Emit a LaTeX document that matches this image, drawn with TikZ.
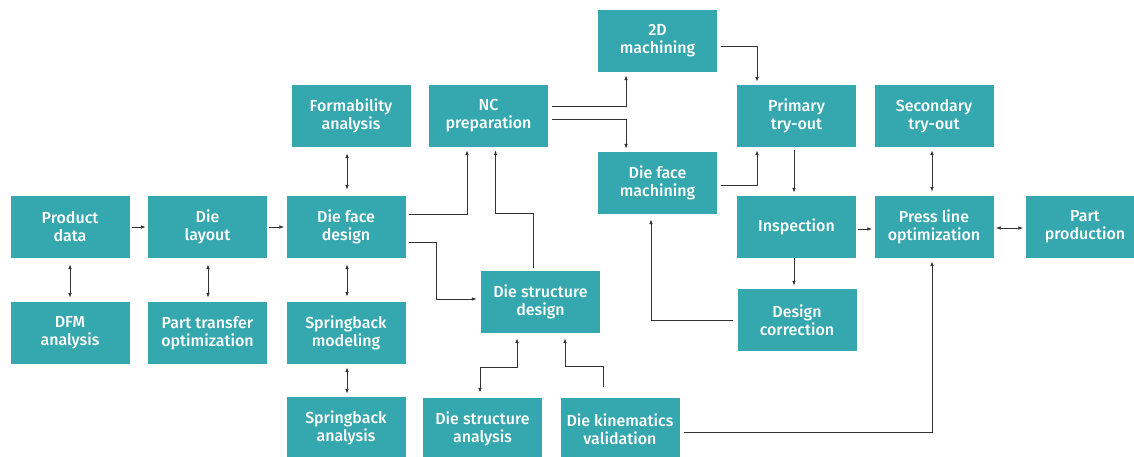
\documentclass[tikz,border=0pt]{standalone}
\usepackage{fontspec}
\setmainfont{Fira Sans}[UprightFont={* Medium}]
\usetikzlibrary{arrows.meta,calc}
\definecolor{boxteal}{HTML}{35A7AE}
\definecolor{linegray}{HTML}{333333}
\tikzset{
  box/.style={fill=boxteal, draw=none, text=white, align=center,
    minimum width=119pt, minimum height=62pt, inner sep=0pt,
    font=\fontsize{16pt}{18pt}\selectfont},
  arr/.style={draw=linegray, line width=0.9pt, -{Latex[length=5pt,width=3.6pt]}},
  darr/.style={draw=linegray, line width=0.9pt, {Latex[length=5pt,width=3.6pt]}-{Latex[length=5pt,width=3.6pt]}}
}
\begin{document}
\begin{tikzpicture}[x=1pt,y=1pt]
\useasboundingbox (0,0) rectangle (1134,-457);
\clip (0,0) rectangle (1134,-457);
% nodes
\node[box] (pd) at (70,-227) {Product\\data};
\node[box] (dl) at (207.5,-227) {Die\\layout};
\node[box] (dfd) at (346,-227) {Die face\\design};
\node[box] (dfm) at (70,-333) {DFM\\analysis};
\node[box] (pto) at (207.5,-333) {Part transfer\\optimization};
\node[box] (sbm) at (346,-333) {Springback\\modeling};
\node[box] (sba) at (346,-428) {Springback\\analysis};
\node[box] (fa) at (351,-116) {Formability\\analysis};
\node[box] (nc) at (488.5,-116) {NC\\preparation};
\node[box] (dsd) at (540.5,-302) {Die structure\\design};
\node[box] (twod) at (657.5,-41) {2D\\machining};
\node[box] (dfmach) at (657.5,-183) {Die face\\machining};
\node[box] (pt) at (796.5,-116) {Primary\\try-out};
\node[box] (insp) at (796.5,-227) {Inspection};
\node[box] (dc) at (797,-320) {Design\\correction};
\node[box] (st) at (934,-116) {Secondary\\try-out};
\node[box] (plo) at (934,-227) {Press line\\optimization};
\node[box] (pp) at (1085,-227) {Part\\production};
\node[box] (dsa) at (482.5,-429) {Die structure\\analysis};
\node[box] (dkv) at (620,-429) {Die kinematics\\validation};
% connectors
\draw[arr] ([xshift=2pt]pd.east) -- ([xshift=-2pt]dl.west);
\draw[arr] ([xshift=2pt]dl.east) -- ([xshift=-2pt]dfd.west);
\draw[darr] ([yshift=-6pt]pd.south) -- ([yshift=4pt]dfm.north);
\draw[darr] ([xshift=0.5pt,yshift=-6pt]dl.south) -- ([xshift=0.5pt,yshift=4pt]pto.north);
\draw[darr] ([xshift=1pt,yshift=6pt]dfd.north) -- ([xshift=-4pt,yshift=-6pt]fa.south);
\draw[darr] ([xshift=1pt,yshift=-6pt]dfd.south) -- ([xshift=1pt,yshift=5pt]sbm.north);
\draw[darr] ([xshift=1pt,yshift=-3pt]sbm.south) -- ([xshift=1pt,yshift=3pt]sba.north);
\draw[arr] ([xshift=3pt,yshift=13pt]dfd.east) -| ([xshift=-21.5pt,yshift=-3pt]nc.south);
\draw[arr] ([xshift=3pt,yshift=-15pt]dfd.east) -- ++(28pt,0) |- ([xshift=-4pt,yshift=3pt]dsd.west);
\draw[arr] ([xshift=-7pt,yshift=3pt]dsd.north) -- ++(0,54pt) -| ([xshift=7pt,yshift=-3pt]nc.south);
\draw[arr] ([xshift=4pt,yshift=10pt]nc.east) -| ([xshift=-31.5pt,yshift=-3pt]twod.south);
\draw[arr] ([xshift=4pt,yshift=-3pt]nc.east) -| ([xshift=-31.5pt,yshift=3pt]dfmach.north);
\draw[arr] ([xshift=4pt,yshift=-5pt]twod.east) -| ([xshift=-39.5pt,yshift=3pt]pt.north);
\draw[arr] ([xshift=4pt,yshift=-2pt]dfmach.east) -| ([xshift=-39.5pt,yshift=-3pt]pt.south);
\draw[arr] ([xshift=-2.5pt,yshift=-3pt]pt.south) -- ([xshift=-2.5pt,yshift=3pt]insp.north);
\draw[arr] ([xshift=-2.5pt]insp.south) -- ([xshift=-3pt,yshift=3pt]dc.north);
\draw[arr] ([xshift=2pt,yshift=-2pt]insp.east) -- ([xshift=-2pt,yshift=-2pt]plo.west);
\draw[arr] ([xshift=-4pt]dc.west) -| ([xshift=-6.5pt,yshift=-5pt]dfmach.south);
\draw[arr] ([xshift=4pt,yshift=-3pt]dkv.east) -| ([xshift=-2pt,yshift=-3pt]plo.south);
\draw[darr] ([xshift=-2pt,yshift=-3pt]st.south) -- ([xshift=-2pt,yshift=4pt]plo.north);
\draw[darr] ([xshift=2pt,yshift=-1pt]plo.east) -- ([xshift=-2pt,yshift=-1pt]pp.west);
\draw[darr] ([xshift=-23.5pt,yshift=-5pt]dsd.south) -- ++(0,-29pt) -| ([xshift=-2.5pt,yshift=5pt]dsa.north);
\draw[arr] ([xshift=-17pt,yshift=11pt]dkv.north) -- ++(0,20pt) -| ([xshift=24.5pt,yshift=-5pt]dsd.south);
\end{tikzpicture}
\end{document}
